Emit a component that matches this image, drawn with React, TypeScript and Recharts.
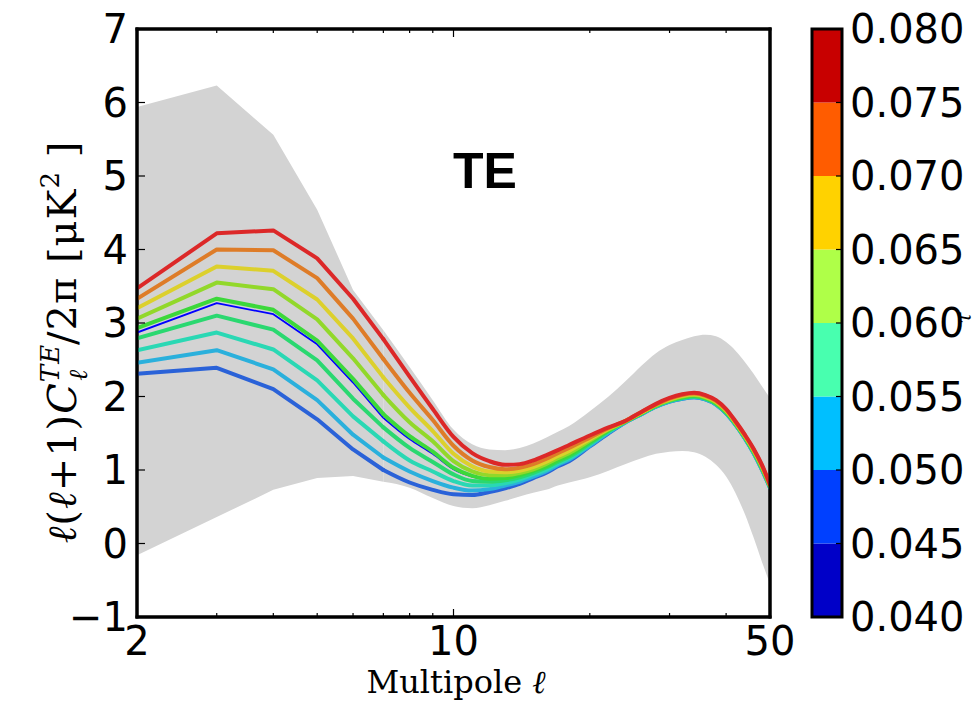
import React from 'react';
import { ComposedChart, Line, Area, XAxis, YAxis, ReferenceArea } from 'recharts';

// Multipole values
const ell = [2, 3, 4, 5, 6, 7, 8, 9, 10, 11, 12, 13, 14, 15, 16, 17, 18, 20, 22, 24, 26, 28, 30, 32, 34, 36, 38, 40, 42, 44, 46, 48, 50];

// Grey band (lower / upper)
const bandLow = [-0.16, 0.36, 0.73, 0.89, 0.92, 0.84, 0.76, 0.62, 0.51, 0.48, 0.52, 0.58, 0.64, 0.69, 0.73, 0.79, 0.83, 0.9, 0.99, 1.08, 1.16, 1.22, 1.25, 1.26, 1.24, 1.18, 1.07, 0.91, 0.68, 0.4, 0.08, -0.25, -0.55];
const bandHigh = [5.94, 6.23, 5.56, 4.54, 3.45, 2.9, 2.4, 1.95, 1.55, 1.35, 1.28, 1.27, 1.3, 1.36, 1.44, 1.52, 1.6, 1.8, 2.0, 2.21, 2.42, 2.59, 2.7, 2.77, 2.82, 2.84, 2.82, 2.74, 2.62, 2.47, 2.31, 2.14, 1.98];

// Model curves, one per tau
const tau040 = [2.31, 2.39, 2.1, 1.69, 1.28, 1.0, 0.83, 0.73, 0.67, 0.66, 0.7, 0.75, 0.81, 0.89, 0.96, 1.05, 1.12, 1.32, 1.5, 1.65, 1.76, 1.86, 1.93, 1.97, 1.99, 1.96, 1.89, 1.77, 1.61, 1.43, 1.23, 1.0, 0.76];
const tau045 = [2.46, 2.63, 2.37, 1.95, 1.48, 1.17, 0.98, 0.85, 0.76, 0.72, 0.74, 0.79, 0.84, 0.91, 0.98, 1.07, 1.14, 1.33, 1.51, 1.65, 1.76, 1.86, 1.93, 1.97, 1.99, 1.96, 1.89, 1.77, 1.61, 1.43, 1.23, 1.01, 0.76];
const tau050 = [2.63, 2.87, 2.64, 2.22, 1.73, 1.39, 1.13, 0.98, 0.85, 0.79, 0.79, 0.82, 0.87, 0.94, 1.0, 1.09, 1.16, 1.35, 1.52, 1.66, 1.77, 1.87, 1.94, 1.98, 2.0, 1.97, 1.9, 1.78, 1.62, 1.44, 1.24, 1.01, 0.77];
const tau055 = [2.79, 3.1, 2.91, 2.49, 1.97, 1.58, 1.3, 1.11, 0.94, 0.85, 0.84, 0.86, 0.9, 0.96, 1.03, 1.11, 1.18, 1.36, 1.53, 1.66, 1.77, 1.87, 1.94, 1.98, 2.0, 1.97, 1.9, 1.78, 1.62, 1.44, 1.24, 1.02, 0.77];
const tau060 = [2.93, 3.33, 3.18, 2.76, 2.24, 1.76, 1.46, 1.25, 1.03, 0.92, 0.88, 0.89, 0.93, 0.99, 1.05, 1.13, 1.2, 1.38, 1.54, 1.66, 1.77, 1.88, 1.95, 1.99, 2.01, 1.98, 1.91, 1.79, 1.63, 1.45, 1.25, 1.03, 0.78];
const tau065 = [3.06, 3.55, 3.46, 3.05, 2.52, 2.02, 1.65, 1.39, 1.12, 0.98, 0.93, 0.93, 0.96, 1.01, 1.08, 1.16, 1.23, 1.4, 1.55, 1.66, 1.78, 1.88, 1.95, 2.0, 2.02, 1.99, 1.92, 1.8, 1.64, 1.46, 1.26, 1.04, 0.78];
const tau070 = [3.2, 3.77, 3.71, 3.32, 2.79, 2.26, 1.85, 1.53, 1.22, 1.05, 0.98, 0.97, 0.99, 1.04, 1.11, 1.19, 1.26, 1.42, 1.56, 1.67, 1.78, 1.89, 1.96, 2.01, 2.03, 2.0, 1.93, 1.81, 1.64, 1.46, 1.27, 1.05, 0.79];
const tau075 = [3.33, 4.0, 3.99, 3.61, 3.06, 2.51, 2.05, 1.68, 1.33, 1.13, 1.04, 1.01, 1.03, 1.08, 1.15, 1.23, 1.3, 1.44, 1.57, 1.67, 1.79, 1.89, 1.97, 2.02, 2.04, 2.01, 1.94, 1.82, 1.65, 1.47, 1.28, 1.06, 0.79];
const tau080 = [3.47, 4.22, 4.26, 3.88, 3.33, 2.78, 2.27, 1.83, 1.45, 1.23, 1.12, 1.07, 1.08, 1.13, 1.2, 1.27, 1.34, 1.47, 1.58, 1.67, 1.79, 1.9, 1.98, 2.03, 2.05, 2.02, 1.95, 1.83, 1.66, 1.48, 1.29, 1.07, 0.8];
const fiducial = [2.87, 3.27, 3.12, 2.71, 2.19, 1.71, 1.42, 1.22, 1.01, 0.91, 0.87, 0.88, 0.92, 0.98, 1.04, 1.12, 1.19, 1.37, 1.54, 1.66, 1.77, 1.88, 1.95, 1.99, 2.01, 1.98, 1.91, 1.79, 1.63, 1.45, 1.25, 1.03, 0.78];

const seriesKeys = ['t040', 't045', 't050', 't055', 't060', 't065', 't070', 't075', 't080'];
const seriesValues = [tau040, tau045, tau050, tau055, tau060, tau065, tau070, tau075, tau080];
const seriesColors = ['#2a62d8', '#2ab0dc', '#2ad8b4', '#2ad870', '#3cd83a', '#92d82a', '#dcd02c', '#de7c28', '#dc2828'];

// Axis ticks
const xTicks = [2, 3, 4, 5, 6, 7, 8, 9, 10, 20, 30, 40, 50];
const xLabelTicks = [2, 10, 50];
const yTicks = [-1, 0, 1, 2, 3, 4, 5, 6, 7];

// Colour bar
const cbBounds = [0.04, 0.045, 0.05, 0.055, 0.06, 0.065, 0.07, 0.075, 0.08];
const cbColors = ['#0000c8', '#0040ff', '#00bfff', '#48ffaf', '#afff48', '#ffd200', '#ff5c00', '#c80000'];

const rows = ell.map((l, i) => {
  const r: any = { ell: l, band: [bandLow[i], bandHigh[i]], fid: fiducial[i] };
  seriesKeys.forEach((k, j) => { r[k] = seriesValues[j][i]; });
  return r;
});
// coarse low multipoles drawn as straight segments, the densely sampled rest smoothly
const leftRows = rows.filter((r) => r.ell <= 7);
const rightRows = rows.filter((r) => r.ell >= 7);

const cbRows = [{ x: 0, y: cbBounds[0] }, { x: 1, y: cbBounds[cbBounds.length - 1] }];

const NUM_FONT = 'DejaVu Sans, sans-serif';

const XTickBottom = (props: any) => {
  const { x, y, payload } = props;
  const v = payload.value;
  const major = v === 10;
  const show = xLabelTicks.includes(v);
  return (
    <g>
      {v !== 2 && v !== 50 && (
        <line x1={x} x2={x} y1={y} y2={y - (major ? 8 : 4)} stroke="#000" strokeWidth={1.2} />
      )}
      {show && (
        <text x={x} y={y + 38} textAnchor="middle" fontSize={40} fontFamily={NUM_FONT} fill="#000">{v}</text>
      )}
    </g>
  );
};

const XTickTop = (props: any) => {
  const { x, y, payload } = props;
  const v = payload.value;
  if (v === 2 || v === 50) return <g />;
  const major = v === 10;
  return <line x1={x} x2={x} y1={y} y2={y + (major ? 8 : 4)} stroke="#000" strokeWidth={1.2} />;
};

const YTickLeft = (props: any) => {
  const { x, y, payload } = props;
  const v = payload.value;
  const label = v < 0 ? '\u2212' + Math.abs(v) : String(v);
  return (
    <g>
      {v !== -1 && v !== 7 && <line x1={x} x2={x + 8} y1={y} y2={y} stroke="#000" strokeWidth={1.2} />}
      <text x={x - 9} y={y + 14} textAnchor="end" fontSize={40} fontFamily={NUM_FONT} fill="#000">{label}</text>
    </g>
  );
};

const YTickRight = (props: any) => {
  const { x, y, payload } = props;
  const v = payload.value;
  if (v === -1 || v === 7) return <g />;
  return <line x1={x} x2={x - 8} y1={y} y2={y} stroke="#000" strokeWidth={1.2} />;
};

const CbTick = (props: any) => {
  const { x, y, payload } = props;
  const v = payload.value;
  return (
    <g>
      {v !== 0.04 && v !== 0.08 && <line x1={x} x2={x - 6} y1={y} y2={y} stroke="#000" strokeWidth={1.2} />}
      <text x={x + 8} y={y + 14} textAnchor="start" fontSize={40} fontFamily={NUM_FONT} fill="#000">{v.toFixed(3)}</text>
    </g>
  );
};

const frameLine = { stroke: '#000', strokeWidth: 3, strokeLinecap: 'square' as const };

export default function App() {
  return (
    <div style={{ position: 'absolute', left: 0, top: 0, width: 978, height: 706, background: '#fff', overflow: 'hidden' }}>
      <div style={{ position: 'absolute', left: 0, top: 0 }}>
        <ComposedChart width={978} height={706} data={rows} margin={{ top: 28, right: 207, bottom: 29, left: 67 }}>
          <XAxis dataKey="ell" type="number" scale="log" domain={[2, 50]} ticks={xTicks} interval={0}
            allowDataOverflow tickSize={0} tickMargin={0} tickLine={false} axisLine={frameLine}
            tick={<XTickBottom />} height={60} />
          <XAxis xAxisId="top" orientation="top" dataKey="ell" type="number" scale="log" domain={[2, 50]} ticks={xTicks}
            interval={0} allowDataOverflow tickSize={0} tickMargin={0} tickLine={false} axisLine={frameLine}
            tick={<XTickTop />} height={1} />
          <YAxis type="number" domain={[-1, 7]} ticks={yTicks} interval={0} tickSize={0} tickMargin={0}
            tickLine={false} axisLine={frameLine} tick={<YTickLeft />} width={70} />
          <YAxis yAxisId="right" orientation="right" type="number" domain={[-1, 7]} ticks={yTicks} interval={0}
            tickSize={0} tickMargin={0} tickLine={false} axisLine={frameLine} tick={<YTickRight />} width={1} />
          <Area data={leftRows} dataKey="band" type="linear" stroke="none" fill="#d3d3d3" fillOpacity={1} isAnimationActive={false} dot={false} activeDot={false} />
          <Area data={rightRows} dataKey="band" type="monotone" stroke="none" fill="#d3d3d3" fillOpacity={1} isAnimationActive={false} dot={false} activeDot={false} />
          <Line data={leftRows} dataKey="fid" type="linear" stroke="#0000ff" strokeWidth={1.8} dot={false} activeDot={false} isAnimationActive={false} strokeLinejoin="round" />
          <Line data={rightRows} dataKey="fid" type="monotone" stroke="#0000ff" strokeWidth={1.8} dot={false} activeDot={false} isAnimationActive={false} strokeLinejoin="round" />
          {seriesKeys.map((k, j) => (
            <Line key={k + 'a'} data={leftRows} dataKey={k} type="linear" stroke={seriesColors[j]} strokeWidth={4} dot={false}
              activeDot={false} isAnimationActive={false} strokeLinejoin="round" strokeLinecap="round" />
          ))}
          {seriesKeys.map((k, j) => (
            <Line key={k + 'b'} data={rightRows} dataKey={k} type="monotone" stroke={seriesColors[j]} strokeWidth={4} dot={false}
              activeDot={false} isAnimationActive={false} strokeLinejoin="round" strokeLinecap="round" />
          ))}
          <ReferenceArea x1={2} x2={50} y1={-1} y2={7} fill="none" fillOpacity={0} stroke="#000" strokeWidth={3} />
        </ComposedChart>
      </div>
      <div style={{ position: 'absolute', left: 770, top: 0 }}>
        <ComposedChart width={208} height={706} data={cbRows} margin={{ top: 29, right: 8, bottom: 89, left: 42 }}>
          <XAxis dataKey="x" type="number" domain={[0, 1]} hide />
          <YAxis orientation="right" type="number" domain={[0.04, 0.08]} ticks={cbBounds} interval={0}
            tickSize={0} tickMargin={0} tickLine={false} axisLine={false} tick={<CbTick />} width={128} />
          {cbColors.map((c, i) => (
            <ReferenceArea key={i} x1={0} x2={1} y1={cbBounds[i]} y2={cbBounds[i + 1]} fill={c} fillOpacity={1} stroke="none" />
          ))}
          <ReferenceArea x1={0} x2={1} y1={0.04} y2={0.08} fill="none" fillOpacity={0} stroke="#000" strokeWidth={3} />
          <Line dataKey="y" stroke="none" dot={false} activeDot={false} isAnimationActive={false} />
        </ComposedChart>
      </div>
      <svg width={978} height={706} style={{ position: 'absolute', left: 0, top: 0, pointerEvents: 'none' }}>
        <text x={485} y={188} textAnchor="middle" fontSize={50} fontWeight="bold" fontFamily="Liberation Sans, Arial, sans-serif" fill="#000">TE</text>
        <text x={456} y={693} textAnchor="middle" fontSize={32} fontFamily="DejaVu Serif, serif" fill="#000">
          Multipole <tspan fontStyle="italic">ℓ</tspan>
        </text>
        <text transform="rotate(-90 76 342)" x={76} y={342} textAnchor="middle" fontSize={40} letterSpacing={1} fontFamily="DejaVu Serif, serif" fill="#000">
          <tspan fontStyle="italic">ℓ</tspan>(<tspan fontStyle="italic">ℓ</tspan>+1)<tspan fontStyle="italic">C</tspan>
          <tspan fontSize={26} fontStyle="italic" dy={-17}>TE</tspan>
          <tspan fontSize={26} fontStyle="italic" dx={-37} dy={28}>ℓ</tspan>
          <tspan dx={24} dy={-11}>/2π  [μK</tspan>
          <tspan fontSize={26} dy={-17}>2</tspan>
          <tspan dy={17}>  ]</tspan>
        </text>
        <text transform="rotate(-90 971 318)" x={971} y={318} textAnchor="middle" fontSize={20} fontStyle="italic" fontFamily="DejaVu Serif, serif" fill="#000">τ</text>
      </svg>
    </div>
  );
}
